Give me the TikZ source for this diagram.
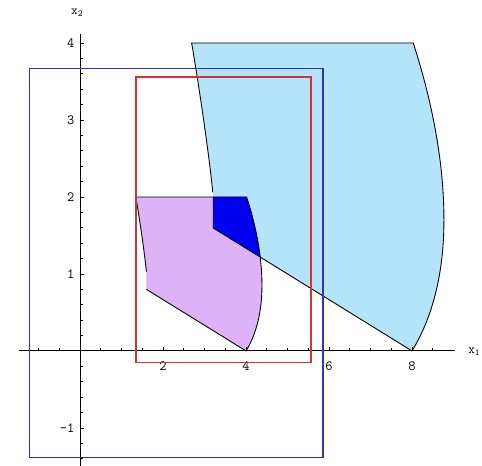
\documentclass[tikz,border=0pt]{standalone}
\usepackage{fontspec}
\definecolor{lblue}{RGB}{180,228,250}
\definecolor{lav}{RGB}{222,178,246}
\definecolor{dblue}{RGB}{0,0,240}
\definecolor{rectblue}{RGB}{50,50,180}
\definecolor{rectred}{RGB}{215,50,50}
\tikzset{
  ticklab/.style={font=\ttfamily\fontsize{12}{12}\selectfont, inner sep=0pt},
  axlab/.style={font=\ttfamily\fontsize{11}{11}\selectfont, inner sep=0pt},
  outline/.style={draw=black, line width=0.75pt},
  boxline/.style={line width=1.4pt},
  axisline/.style={draw=black, line width=0.8pt},
  tickline/.style={draw=black, line width=0.6pt}
}
\def\regionpath{(2.69,4) -- (8.03,4) .. controls (8.45,3.3) and (8.77,2.5) .. (8.77,1.7) .. controls (8.77,0.9) and (8.4,0.35) .. (8,0) -- (3.2,1.6) -- (3.2,2.06) .. controls (3.1,2.6) and (2.85,3.5) .. (2.69,4) -- cycle}
\begin{document}
\begin{tikzpicture}[x=1.245cm, y=2.31cm]
\useasboundingbox (-1.928,-1.494) rectangle (9.687,4.558);
% light blue region
\fill[lblue] \regionpath;
% lavender region (same region at half scale)
\begin{scope}[scale=0.5]
\fill[lav] \regionpath;
\end{scope}
% dark blue intersection
\begin{scope}
\clip \regionpath;
\begin{scope}[scale=0.5]
\fill[dblue] \regionpath;
\end{scope}
\end{scope}
% outlines
\draw[outline] (3.2,2.06) .. controls (3.1,2.6) and (2.85,3.5) .. (2.69,4) -- (8.03,4) .. controls (8.45,3.3) and (8.77,2.5) .. (8.77,1.7) .. controls (8.77,0.9) and (8.4,0.35) .. (8,0) -- (3.2,1.6);
\begin{scope}[scale=0.5]
\draw[outline] (3.2,2.06) .. controls (3.1,2.6) and (2.85,3.5) .. (2.69,4) -- (8.03,4) .. controls (8.45,3.3) and (8.77,2.5) .. (8.77,1.7) .. controls (8.77,0.9) and (8.4,0.35) .. (8,0) -- (3.2,1.6);
\end{scope}
% axes
\draw[axisline] (-1.47,0) -- (9.04,0);
\draw[axisline] (0,-1.494) -- (0,4.12);
\foreach \x in {-1,-0.5,0.5,1,1.5,2.5,3,3.5,4.5,5,5.5,6.5,7,7.5,8.5}
  \draw[tickline] (\x,0) -- ++(0pt,2.2pt);
\foreach \x in {2,4,6,8}
  \draw[tickline] (\x,0) -- ++(0pt,3.8pt);
\foreach \y in {-1.4,-1.2,-0.8,-0.6,-0.4,-0.2,0.2,0.4,0.6,0.8,1.2,1.4,1.6,1.8,2.2,2.4,2.6,2.8,3.2,3.4,3.6,3.8}
  \draw[tickline] (0,\y) -- ++(2.2pt,0pt);
\foreach \y in {-1,1,2,3,4}
  \draw[tickline] (0,\y) -- ++(3.8pt,0pt);
% tick labels
\node[ticklab] (tx2) at (2,-0.195) {2};
\node[ticklab] (tx4) at (4,-0.195) {4};
\node[ticklab] (tx6) at (6,-0.195) {6};
\node[ticklab] (tx8) at (8,-0.195) {8};
\node[ticklab, anchor=east] (ty4) at (-0.13,4) {4};
\node[ticklab, anchor=east] (ty3) at (-0.13,3) {3};
\node[ticklab, anchor=east] (ty2) at (-0.13,2) {2};
\node[ticklab, anchor=east] (ty1) at (-0.13,1) {1};
\node[ticklab, anchor=east] (tym1) at (-0.13,-1) {-1};
% axis labels
\node[axlab, anchor=west] (lx2) at (-0.217,4.39) {x\textsubscript{2}};
\node[axlab, anchor=west] (lx1) at (9.35,-0.01) {x\textsubscript{1}};
% rectangles
\draw[rectblue, boxline] (-1.22,-1.386) rectangle (5.85,3.67);
\draw[rectred, boxline] (1.35,-0.152) rectangle (5.57,3.555);
\end{tikzpicture}
\end{document}
